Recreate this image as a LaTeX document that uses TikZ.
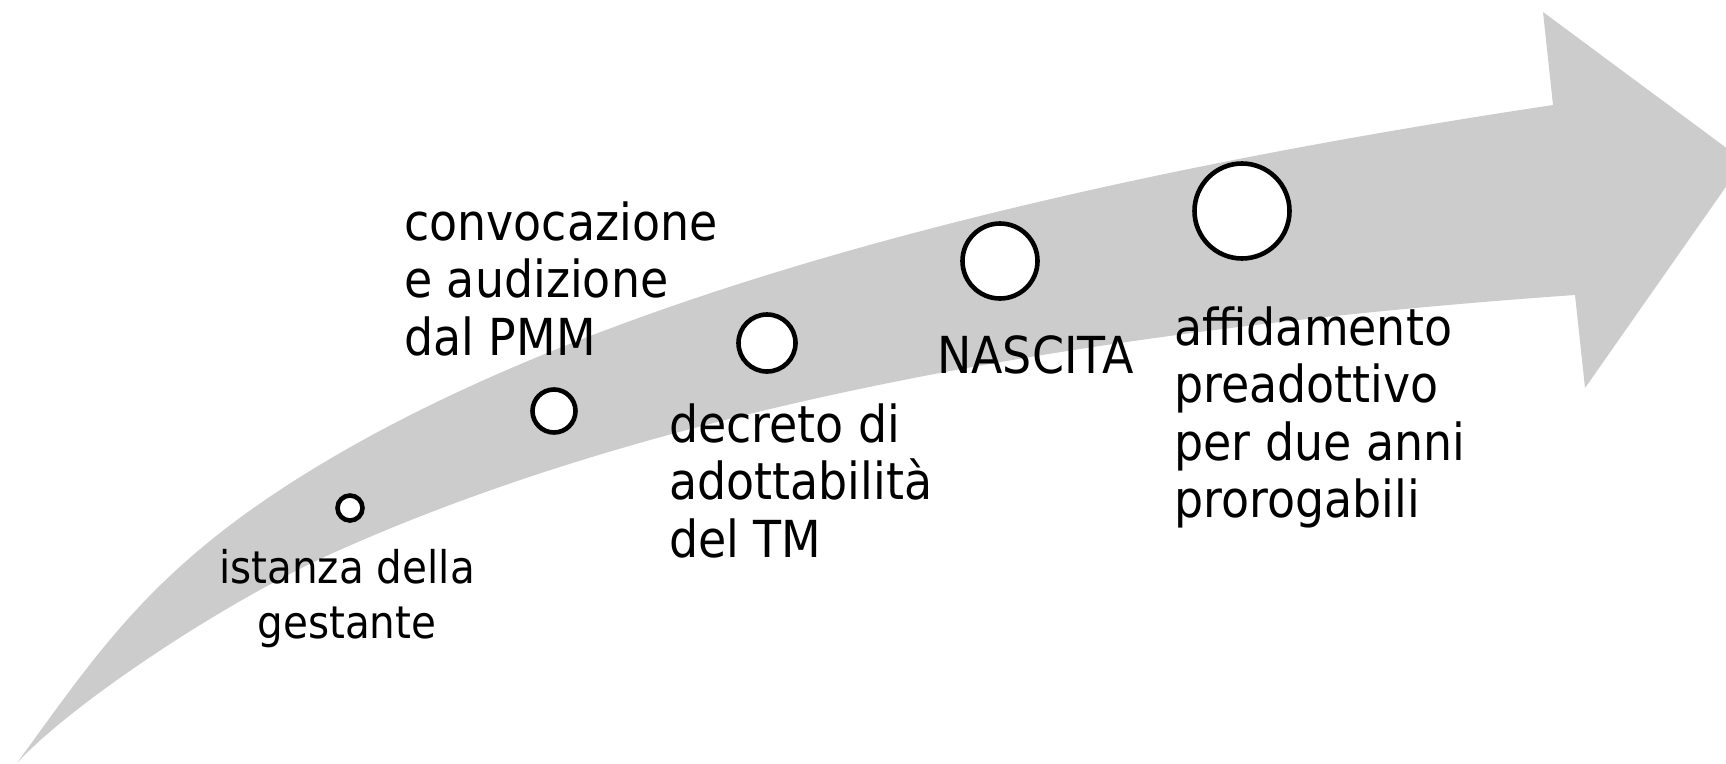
\documentclass[tikz,border=0pt]{standalone}
\usepackage{fontspec}
\setmainfont{DejaVu Sans}[FakeStretch=0.9]
\definecolor{arrowgray}{RGB}{204,204,204}
\begin{document}
\begin{tikzpicture}[x=1pt,y=-1pt,
  stepdot/.style={draw=black, line width=4.6pt, fill=white, circle, inner sep=0pt},
  lbl/.style={inner sep=0pt, font=\fontsize{51}{57.5}\selectfont, align=left, anchor=base west},
  lblsmall/.style={inner sep=0pt, font=\fontsize{45}{55}\selectfont, align=center, anchor=base},
]
\useasboundingbox (0,0) rectangle (1726,763);
\begin{scope}
\clip (0,0) rectangle (1726,763);
\fill[arrowgray] (17,763) .. controls (105,642) and (160,557) .. (340,453)
  .. controls (643,278) and (1108,172) .. (1553,105)
  -- (1543,12) -- (1744,161) -- (1585,388) -- (1575,295)
  .. controls (1076,330) and (651,410) .. (333,553)
  .. controls (224,602) and (71,704) .. (17,763) -- cycle;
\end{scope}
\node[stepdot, minimum size=25pt] (c1) at (350,508) {};
\node[stepdot, minimum size=43pt] (c2) at (554,411) {};
\node[stepdot, minimum size=57pt] (c3) at (767,343) {};
\node[stepdot, minimum size=75pt] (c4) at (1000,261) {};
\node[stepdot, minimum size=95pt] (c5) at (1242,211) {};
\node[lblsmall] (t1) at (347,638) {istanza della\\gestante};
\node[lbl] (t2) at (404,355) {convocazione\\e audizione\\dal PMM};
\node[lbl] (t3) at (669,557) {decreto di\\adottabilità\\del TM};
\node[lbl] (t4) at (937,373) {NASCITA};
\node[lbl] (t5) at (1174,517.5) {affidamento\\preadottivo\\per due anni\\prorogabili};
\end{tikzpicture}
\end{document}
